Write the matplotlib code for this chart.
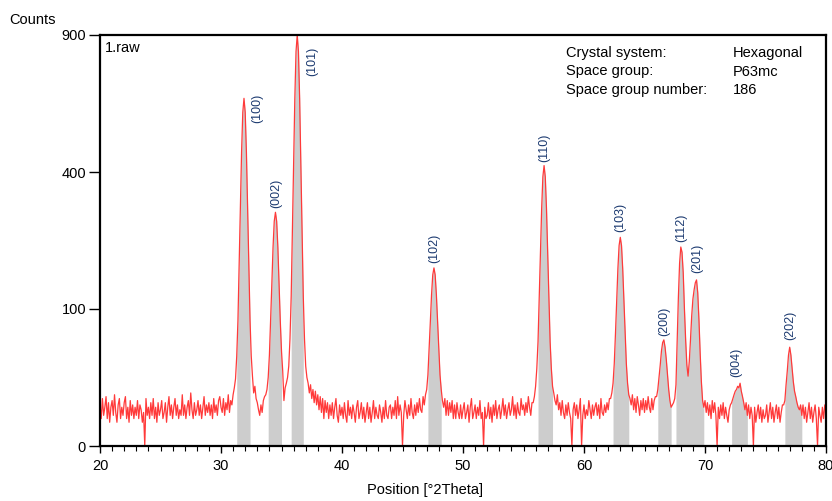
import numpy as np
import matplotlib
matplotlib.use("Agg")
import matplotlib.pyplot as plt
from matplotlib.ticker import MultipleLocator, FixedLocator, NullLocator

plt.rcParams['font.family'] = ['Liberation Sans', 'DejaVu Sans']

# ---- data -------------------------------------------------------------
two_theta_start = 20.0
two_theta_step = 0.1

counts_rows = [
    [9, 4, 12, 5, 8, 13, 4, 10, 3, 8],            # 20
    [11, 5, 14, 6, 3, 9, 12, 4, 8, 5],            # 21
    [10, 13, 4, 8, 3, 11, 5, 9, 4, 8],            # 22
    [5, 11, 4, 9, 7, 3, 6, 0, 12, 5],             # 23
    [8, 4, 10, 5, 12, 4, 8, 3, 10, 5],            # 24
    [7, 11, 4, 6, 10, 3, 8, 13, 5, 9],            # 25
    [4, 8, 12, 5, 9, 4, 7, 5, 14, 5],             # 26
    [9, 4, 8, 11, 5, 15, 7, 4, 10, 5],            # 27
    [7, 11, 5, 9, 4, 8, 13, 5, 9, 6],             # 28
    [10, 5, 9, 4, 12, 6, 9, 5, 11, 13],           # 29
    [8, 6, 12, 5, 10, 7, 14, 6, 11, 9],           # 30
    [14, 18, 24, 43, 84, 173, 301, 460, 593, 644],  # 31
    [593, 460, 301, 173, 84, 43, 26, 15, 19, 12],   # 32
    [10, 7, 5, 9, 6, 11, 13, 14, 17, 25],         # 33
    [44, 83, 139, 210, 269, 291, 269, 210, 139, 83],  # 34
    [48, 30, 11, 18, 21, 25, 34, 61, 119, 243],   # 35
    [420, 642, 829, 900, 829, 642, 420, 243, 119, 61],  # 36
    [34, 25, 21, 15, 20, 12, 17, 10, 16, 9],      # 37
    [14, 7, 13, 6, 12, 4, 11, 6, 10, 4],          # 38
    [9, 5, 10, 4, 8, 12, 5, 3, 9, 5],             # 39
    [8, 4, 10, 5, 3, 11, 5, 8, 4, 9],             # 40
    [6, 3, 8, 11, 4, 6, 10, 4, 8, 3],             # 41
    [6, 10, 4, 8, 3, 6, 11, 4, 8, 5],             # 42
    [4, 9, 6, 3, 8, 4, 11, 5, 4, 8],              # 43
    [9, 4, 8, 5, 11, 4, 13, 5, 9, 6],             # 44
    [0, 5, 11, 7, 4, 9, 5, 12, 6, 4],             # 45
    [9, 5, 10, 6, 12, 7, 6, 13, 9, 14],           # 46
    [17, 27, 50, 82, 122, 156, 169, 156, 122, 82],  # 47
    [50, 27, 17, 11, 8, 12, 5, 11, 5, 10],        # 48
    [6, 11, 4, 9, 4, 10, 6, 4, 9, 4],             # 49
    [7, 10, 4, 6, 9, 3, 8, 12, 4, 6],             # 50
    [9, 4, 8, 5, 11, 4, 6, 0, 8, 4],              # 51
    [5, 10, 4, 8, 3, 9, 5, 11, 4, 7],             # 52
    [9, 4, 7, 12, 5, 9, 4, 7, 10, 5],             # 53
    [7, 13, 5, 9, 4, 10, 6, 5, 12, 7],            # 54
    [9, 5, 10, 6, 13, 8, 5, 10, 10, 13],          # 55
    [19, 32, 58, 116, 198, 300, 386, 419, 386, 300],  # 56
    [198, 116, 58, 32, 19, 15, 11, 9, 14, 7],     # 57
    [10, 5, 11, 6, 4, 9, 5, 10, 6, 4],            # 58
    [0, 7, 10, 5, 9, 4, 7, 12, 0, 5],             # 59
    [9, 4, 7, 5, 11, 7, 4, 9, 5, 8],              # 60
    [10, 5, 9, 4, 12, 6, 5, 9, 6, 10],            # 61
    [7, 12, 12, 15, 21, 36, 67, 112, 167, 214],   # 62
    [232, 214, 167, 112, 67, 36, 21, 14, 12, 9],  # 63
    [14, 7, 12, 6, 13, 9, 5, 11, 7, 12],          # 64
    [6, 11, 7, 13, 8, 6, 12, 7, 11, 13],          # 65
    [13, 17, 25, 35, 48, 57, 60, 52, 40, 27],     # 66
    [17, 11, 8, 9, 10, 12, 20, 60, 118, 178],     # 67
    [211, 200, 160, 100, 60, 35, 26, 38, 60, 90], # 68
    [115, 130, 142, 147, 125, 85, 46, 22, 11, 8], # 69
    [11, 6, 10, 5, 9, 4, 11, 6, 10, 5],           # 70
    [0, 8, 4, 9, 5, 10, 4, 8, 5, 3],              # 71
    [7, 9, 10, 12, 14, 16, 17, 19, 18, 21],       # 72
    [16, 13, 10, 7, 10, 5, 9, 4, 8, 5],           # 73
    [0, 8, 3, 6, 9, 4, 8, 3, 7, 4],               # 74
    [5, 9, 3, 6, 10, 4, 8, 3, 6, 9],              # 75
    [4, 8, 3, 6, 9, 9, 11, 20, 30, 44],           # 76
    [52, 44, 32, 22, 16, 13, 10, 8, 7, 9],        # 77
    [5, 9, 4, 8, 3, 6, 10, 4, 8, 3],              # 78
    [6, 9, 4, 0, 8, 5, 3, 8, 4, 9],               # 79
    [6],                                          # 80
]

peak_labels = ['(100)', '(002)', '(101)', '(102)', '(110)', '(103)',
               '(200)', '(112)', '(201)', '(004)', '(202)']
peak_positions = [31.9, 34.5, 36.3, 47.6, 56.7, 63.0, 66.6, 68.0, 69.3, 72.9, 77.0]

band_ranges = [(31.3, 32.4), (33.9, 35.0), (35.8, 36.8), (47.1, 48.2),
               (56.2, 57.4), (62.4, 63.7), (66.1, 67.2), (67.6, 69.9),
               (72.2, 73.5), (76.6, 78.0)]

info_keys = ['Crystal system:', 'Space group:', 'Space group number:']
info_vals = ['Hexagonal', 'P63mc', '186']

x_ticks = [20, 30, 40, 50, 60, 70, 80]
y_ticks = [0, 100, 400, 900]

# ---- build ------------------------------------------------------------
counts = np.array([v for row in counts_rows for v in row], dtype=float)
two_theta = np.round(two_theta_start + two_theta_step * np.arange(len(counts)), 2)

# label offsets in points (dx, dy) relative to the peak top
label_offsets = [(9.5, -18), (0.5, 3), (11, -29.5), (0, 3.5), (0, 2.5), (0, 3.5),
                 (0, 3), (0, 3.5), (0.5, 5), (-3, 4.5), (0.5, 5)]

W, H = 832, 501
fig = plt.figure(figsize=(W / 100, H / 100), dpi=100)
ax = fig.add_axes([100 / W, 1 - 446 / H, 726 / W, 411 / H])

ax.set_yscale('function', functions=(lambda v: np.sqrt(np.clip(v, 0, None)), np.square))

for a, b in band_ranges:
    m = (two_theta >= a - 1e-9) & (two_theta <= b + 1e-9)
    ax.fill_between(two_theta, 0, counts, where=m, color='#cdcdcd', lw=0, zorder=1)

ax.plot(two_theta, counts, color='#ff3a3a', lw=0.9, zorder=2)

ax.set_xlim(20, 80)
ax.set_ylim(0, 900)

for lab, pos, (dx, dy) in zip(peak_labels, peak_positions, label_offsets):
    yv = np.interp(pos, two_theta, counts)
    ax.annotate(lab, xy=(pos, yv), xytext=(dx, dy), textcoords='offset points',
                rotation=90, ha='center', va='bottom', fontsize=9,
                color='#1c3a70', annotation_clip=False, zorder=3)

ax.xaxis.set_major_locator(FixedLocator(x_ticks))
ax.xaxis.set_minor_locator(MultipleLocator(1))
ax.yaxis.set_major_locator(FixedLocator(y_ticks))
ax.yaxis.set_minor_locator(NullLocator())
ax.set_xticklabels([str(t) for t in x_ticks])
ax.set_yticklabels([str(t) for t in y_ticks])
ax.tick_params(axis='x', which='major', direction='out', length=5, width=1, pad=4,
               labelsize=10.5, colors='black')
ax.tick_params(axis='x', which='minor', direction='out', length=3.5, width=0.8)
ax.tick_params(axis='y', which='major', direction='out', length=8, width=1, pad=2,
               labelsize=10.5)
for s in ax.spines.values():
    s.set_linewidth(1.6)
    s.set_color('black')

ax.text(0.007, 0.985, '1.raw', transform=ax.transAxes, ha='left', va='top', fontsize=10.5)

for i, (k, v) in enumerate(zip(info_keys, info_vals)):
    yy = 1 - (53 + i * 18.5) / H
    fig.text(566 / W, yy, k, ha='left', va='center', fontsize=10.5)
    fig.text(733 / W, yy, v, ha='left', va='center', fontsize=10.5)

fig.text(33 / W, 1 - 20 / H, 'Counts', ha='center', va='center', fontsize=10.5)
fig.text(425 / W, 1 - 490 / H, 'Position [°2Theta]', ha='center', va='center', fontsize=10.5)

fig.savefig('out.png', dpi=100)
